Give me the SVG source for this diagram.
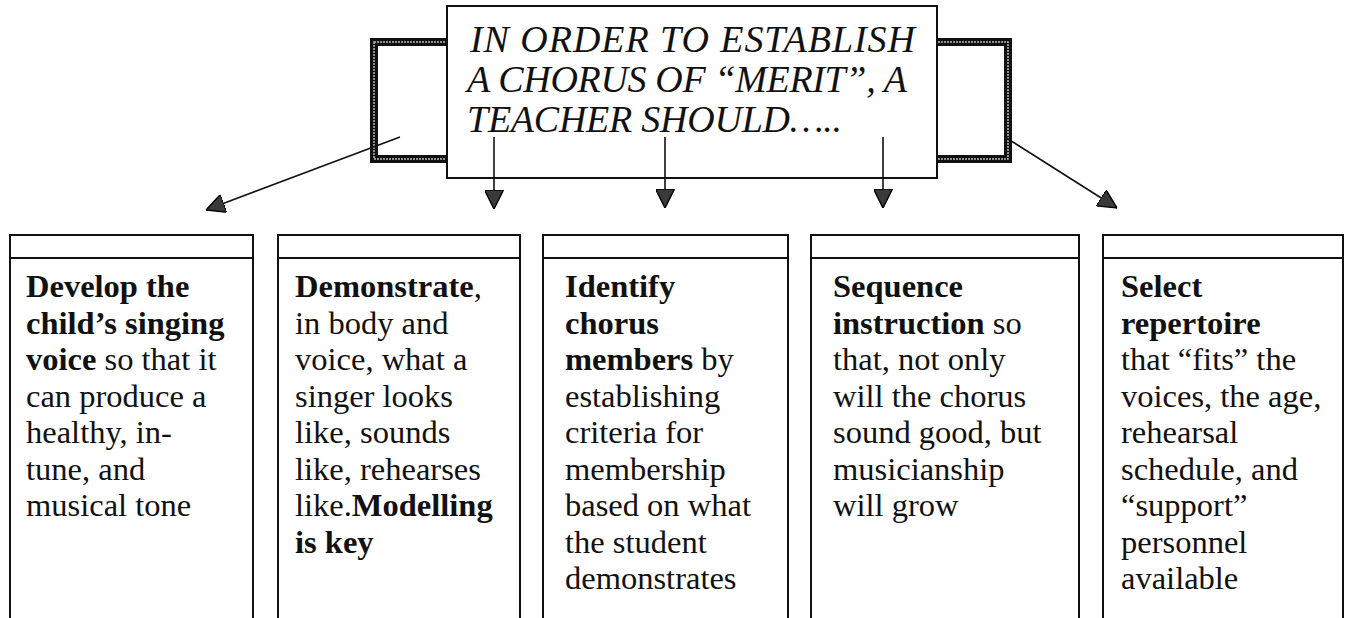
<svg xmlns="http://www.w3.org/2000/svg" width="1350" height="618" viewBox="0 0 1350 618">
<style>
.bg{fill:#fff}
.frame{fill:none;stroke:#111;stroke-width:8}
.frame2{fill:none;stroke:#bbb;stroke-width:1.5;stroke-dasharray:2 1}
.box{fill:#fff;stroke:#111;stroke-width:2}
.title{font-family:"Liberation Serif","DejaVu Serif",serif;font-style:italic;font-size:38px;fill:#111}
.t{font-family:"Liberation Serif","DejaVu Serif",serif;font-size:32.5px;fill:#111}
.b{font-weight:bold}
.conn{stroke:#111;stroke-width:1.6;fill:none}
</style>
<defs>
<marker id="ah" viewBox="0 0 20 20" refX="20" refY="10" markerWidth="19" markerHeight="19" markerUnits="userSpaceOnUse" orient="auto">
<path d="M0,0 L20,10 L0,20 Z" fill="#3a3a3a" stroke="#000" stroke-width="1.5"/>
</marker>
</defs>
<rect class="bg" x="0" y="0" width="1350" height="618"/>

<g id="frame">
<rect class="frame" x="374" y="42" width="634" height="117"/>
<rect class="frame2" x="374" y="42" width="634" height="117"/>
</g>

<g id="top">
<rect class="box" x="447" y="6" width="490" height="172"/>
<text class="title" x="470" y="52" textLength="445" lengthAdjust="spacing">IN ORDER TO ESTABLISH</text>
<text class="title" x="467" y="92" textLength="440" lengthAdjust="spacing">A CHORUS OF “MERIT”, A</text>
<text class="title" x="467" y="132" textLength="375" lengthAdjust="spacing">TEACHER SHOULD…..</text>
</g>

<g id="connectors">
<line class="conn" x1="400" y1="137" x2="206" y2="210" marker-end="url(#ah)"/>
<line class="conn" x1="494" y1="137" x2="494" y2="209" marker-end="url(#ah)"/>
<line class="conn" x1="665" y1="137" x2="665" y2="208" marker-end="url(#ah)"/>
<line class="conn" x1="883" y1="137" x2="883" y2="208" marker-end="url(#ah)"/>
<line class="conn" x1="1005" y1="137" x2="1117" y2="208" marker-end="url(#ah)"/>
</g>

<g id="box1">
<rect class="box" x="10" y="235" width="243" height="400"/>
<line class="box" x1="10" y1="258" x2="253" y2="258"/>
<text class="t" x="26" y="297"><tspan class="b">Develop the</tspan></text>
<text class="t" x="26" y="333.5"><tspan class="b">child’s singing</tspan></text>
<text class="t" x="26" y="370"><tspan class="b">voice</tspan> so that it</text>
<text class="t" x="26" y="406.5">can produce a</text>
<text class="t" x="26" y="443">healthy, in-</text>
<text class="t" x="26" y="479.5">tune, and</text>
<text class="t" x="26" y="516">musical tone</text>
</g>

<g id="box2">
<rect class="box" x="278" y="235" width="242" height="400"/>
<line class="box" x1="278" y1="258" x2="520" y2="258"/>
<text class="t" x="295" y="297"><tspan class="b">Demonstrate</tspan>,</text>
<text class="t" x="295" y="333.5">in body and</text>
<text class="t" x="295" y="370">voice, what a</text>
<text class="t" x="295" y="406.5">singer looks</text>
<text class="t" x="295" y="443">like, sounds</text>
<text class="t" x="295" y="479.5">like, rehearses</text>
<text class="t" x="295" y="516">like.<tspan class="b">Modelling</tspan></text>
<text class="t" x="295" y="552.5"><tspan class="b">is key</tspan></text>
</g>

<g id="box3">
<rect class="box" x="543" y="235" width="245" height="400"/>
<line class="box" x1="543" y1="258" x2="788" y2="258"/>
<text class="t" x="565" y="297"><tspan class="b">Identify</tspan></text>
<text class="t" x="565" y="333.5"><tspan class="b">chorus</tspan></text>
<text class="t" x="565" y="370"><tspan class="b">members</tspan> by</text>
<text class="t" x="565" y="406.5">establishing</text>
<text class="t" x="565" y="443">criteria for</text>
<text class="t" x="565" y="479.5">membership</text>
<text class="t" x="565" y="516">based on what</text>
<text class="t" x="565" y="552.5">the student</text>
<text class="t" x="565" y="589">demonstrates</text>
</g>

<g id="box4">
<rect class="box" x="811" y="235" width="268" height="400"/>
<line class="box" x1="811" y1="258" x2="1079" y2="258"/>
<text class="t" x="833" y="297"><tspan class="b">Sequence</tspan></text>
<text class="t" x="833" y="333.5"><tspan class="b">instruction</tspan> so</text>
<text class="t" x="833" y="370">that, not only</text>
<text class="t" x="833" y="406.5">will the chorus</text>
<text class="t" x="833" y="443">sound good, but</text>
<text class="t" x="833" y="479.5">musicianship</text>
<text class="t" x="833" y="516">will grow</text>
</g>

<g id="box5">
<rect class="box" x="1103" y="235" width="240" height="400"/>
<line class="box" x1="1103" y1="258" x2="1343" y2="258"/>
<text class="t" x="1121" y="297"><tspan class="b">Select</tspan></text>
<text class="t" x="1121" y="333.5"><tspan class="b">repertoire</tspan></text>
<text class="t" x="1121" y="370">that “fits” the</text>
<text class="t" x="1121" y="406.5">voices, the age,</text>
<text class="t" x="1121" y="443">rehearsal</text>
<text class="t" x="1121" y="479.5">schedule, and</text>
<text class="t" x="1121" y="516"> “support”</text>
<text class="t" x="1121" y="552.5">personnel</text>
<text class="t" x="1121" y="589">available</text>
</g>
</svg>
